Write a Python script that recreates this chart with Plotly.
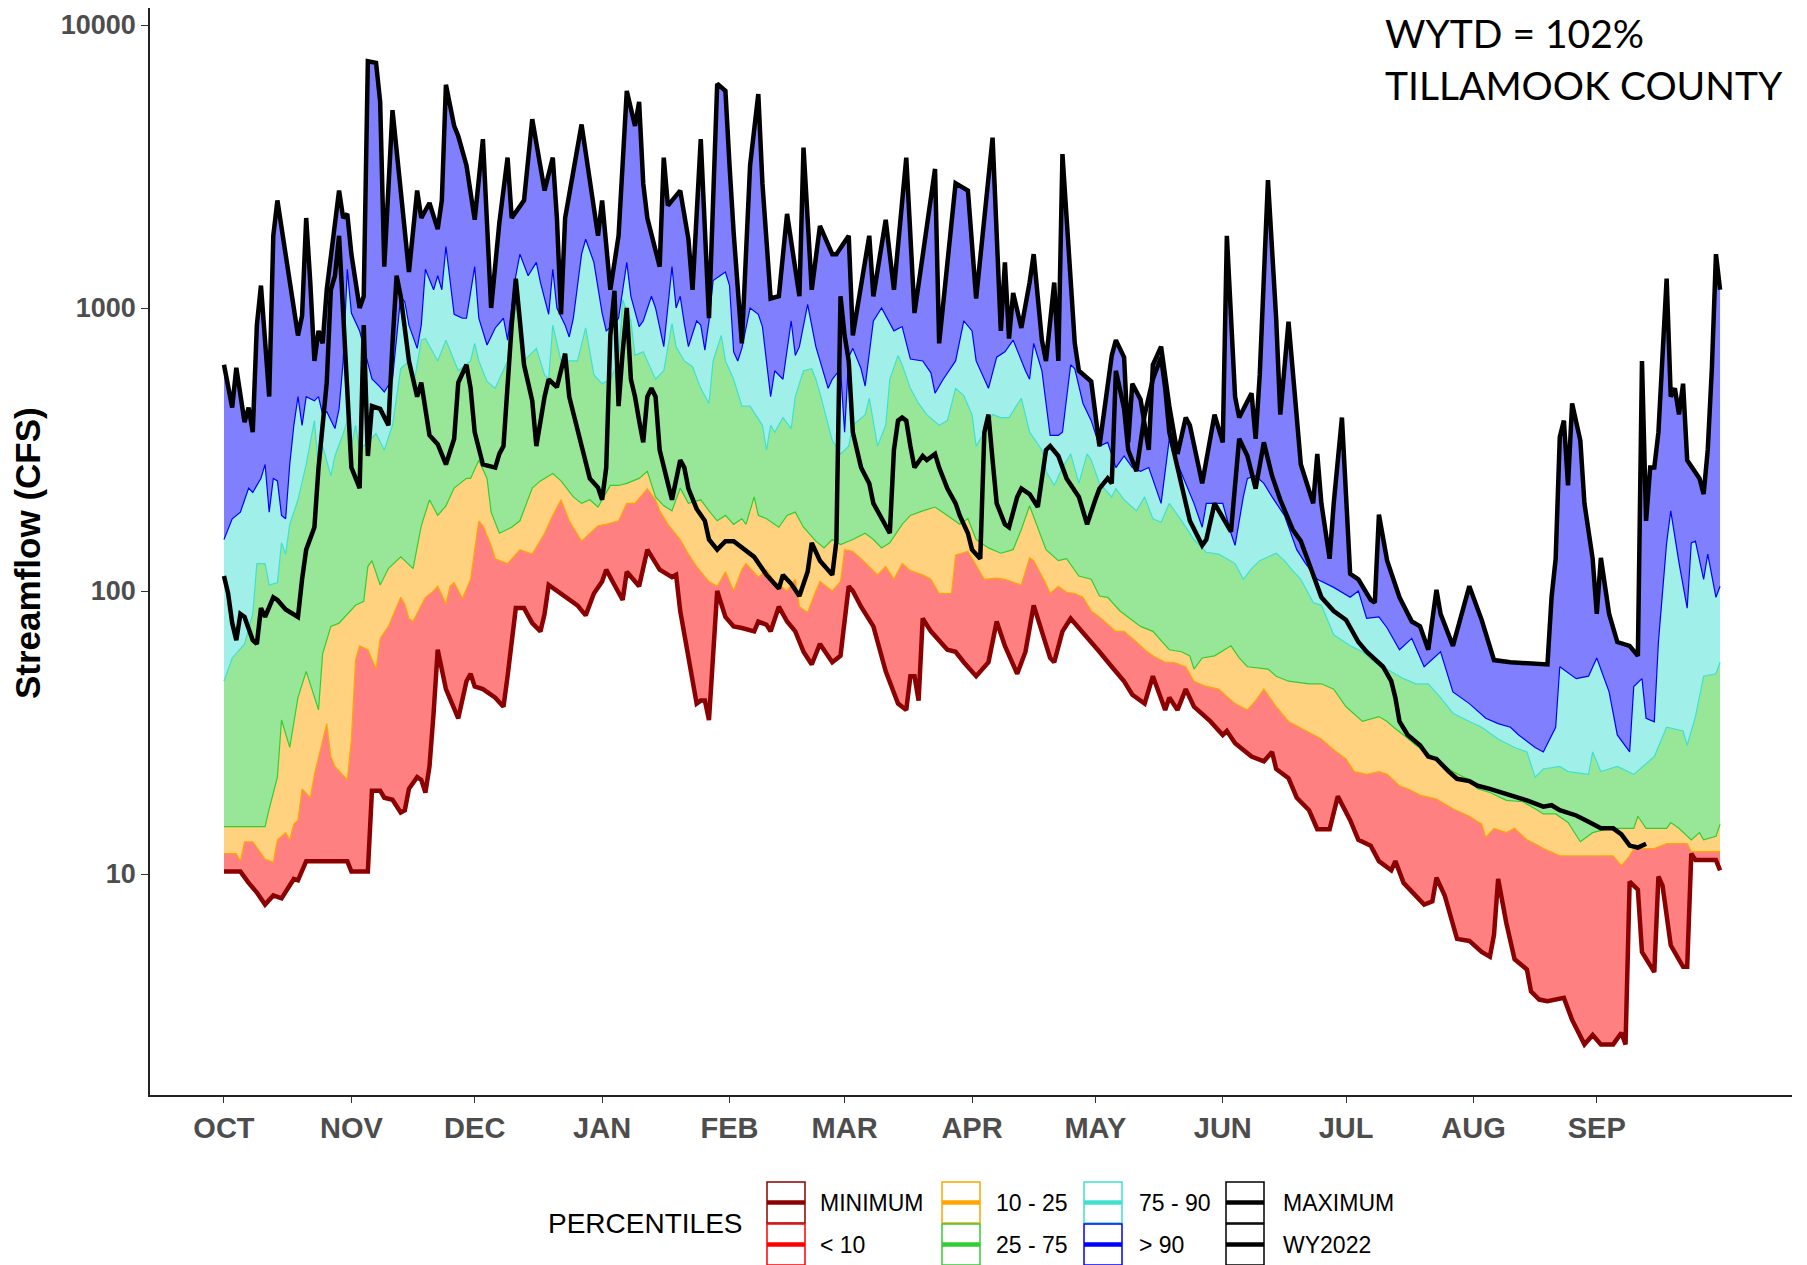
import plotly.graph_objects as go

# water-year day (0 = Oct 1) and streamflow in CFS
min_pts = [(0, 10.2), (4, 10.2), (6, 9.3), (8, 8.6), (10, 7.8), (12, 8.4), (14, 8.2), (16, 9.2), (17, 9.6), (18, 9.5),
           (20, 11.1), (30, 11.1), (31, 10.2), (35, 10.2), (36, 19.7), (38, 19.7), (39, 18.6), (41, 18.3), (43, 16.5),
           (44, 16.8), (45, 20), (47, 22), (48, 21.5), (49, 19.4), (50, 24), (51, 37), (52, 62), (54, 45), (56, 38),
           (57, 35.5), (59, 48), (60, 51), (61, 46), (63, 45), (66, 42), (68, 39), (69, 50), (70, 64), (71, 87), (73, 87),
           (75, 77), (77, 72), (78, 83), (79, 105), (81, 100), (83, 96), (86, 89), (88, 82), (90, 98), (92, 108),
           (93, 119), (95, 105), (97, 93), (98, 117), (99, 112), (101, 104), (103, 140), (105, 125), (106, 119),
           (109, 112), (110, 114), (111, 85), (113, 59), (115, 40), (116, 41), (117, 41), (118, 35), (119, 58),
           (120, 100), (122, 81), (124, 75), (126, 74), (129, 72), (130, 78), (132, 76), (133, 72), (135, 88), (137, 78),
           (139, 72), (141, 61), (143, 55), (145, 65), (148, 56), (150, 59), (151, 80), (152, 104), (153, 100), (155, 88),
           (158, 75), (161, 52), (164, 40), (166, 38), (167, 50), (168, 50), (169, 41), (170, 80), (172, 72), (174, 67),
           (176, 62), (178, 61), (180, 56), (183, 50), (186, 56), (188, 78), (190, 64), (193, 51), (195, 61), (197, 89),
           (199, 72), (201, 58), (202, 56), (204, 72), (206, 80), (210, 69), (213, 61), (216, 54), (219, 48), (221, 43),
           (224, 40), (226, 50), (228, 41), (229, 38), (230, 42), (232, 38), (234, 45), (236, 39), (240, 34.6), (243, 31),
           (244, 32), (246, 29), (250, 26), (253, 25), (255, 27), (256, 23.5), (259, 21.8), (261, 18.6), (264, 16.8),
           (266, 14.4), (269, 14.4), (271, 18.8), (274, 15.5), (276, 13.2), (279, 12.6), (281, 11.1), (284, 10.3),
           (285, 11.1), (287, 9.3), (291, 8.0), (292, 7.8), (294, 8.0), (295, 9.7), (297, 8.4), (300, 5.9), (303, 5.8),
           (306, 5.3), (308, 5.1), (309, 6.1), (310, 9.6), (312, 6.7), (314, 5.0), (317, 4.6), (318, 3.85), (320, 3.6),
           (322, 3.55), (326, 3.65), (328, 3.05), (331, 2.5), (333, 2.7), (335, 2.5), (338, 2.5), (340, 2.75), (341, 2.5),
           (342, 9.4), (344, 8.8), (345, 5.3), (348, 4.5), (349, 9.8), (350, 9.1), (352, 5.6), (355, 4.7), (356, 4.7),
           (357, 11.8), (358, 11.2), (363, 11.2), (364, 10.3)]

p10_pts = [(0, 11.8), (3, 11.8), (4, 11.1), (5, 13), (7, 13), (10, 11.3), (12, 11), (13, 13.2), (15, 14), (16, 13.2),
           (17, 15), (18, 15.5), (19, 20), (21, 18.6), (22, 22.5), (24, 29.5), (25, 34), (26, 26), (27, 24), (30, 21.5),
           (31, 30), (32, 57), (33, 64), (35, 62), (37, 53), (38, 68), (40, 75), (43, 95), (44, 90), (45, 80), (46, 78),
           (49, 95), (51, 100), (52, 104), (54, 90), (55, 104), (56, 107), (58, 94), (60, 110), (61, 140), (62, 177),
           (63, 170), (65, 145), (66, 130), (69, 125), (72, 140), (75, 135), (78, 160), (80, 185), (82, 210), (84, 177),
           (87, 150), (91, 170), (93, 172), (96, 177), (98, 204), (100, 204), (103, 230), (105, 210), (106, 192),
           (108, 172), (111, 152), (113, 135), (115, 122), (118, 108), (120, 104), (122, 117), (124, 100), (126, 119),
           (127, 125), (130, 112), (132, 119), (134, 108), (137, 100), (139, 110), (140, 88), (142, 84), (144, 100),
           (145, 108), (148, 100), (150, 108), (151, 140), (153, 138), (155, 130), (157, 122), (159, 114), (161, 122),
           (163, 110), (165, 125), (167, 118), (170, 114), (172, 110), (174, 98), (177, 98), (178, 134), (181, 138),
           (185, 110), (188, 111), (190, 110), (194, 105), (196, 131), (197, 128), (200, 106), (201, 98), (203, 104),
           (205, 99), (207, 98), (209, 95), (211, 85), (213, 81), (217, 72), (219, 72), (222, 66), (224, 62), (226, 59),
           (229, 56), (231, 56), (234, 54), (236, 48), (239, 46), (242, 45), (246, 40), (249, 38), (251, 41), (253, 45),
           (256, 39), (259, 34.6), (262, 32.8), (265, 31), (267, 30), (270, 27.5), (273, 25.5), (275, 23), (278, 22.5),
           (281, 23), (283, 22.5), (286, 20.5), (288, 20), (291, 19), (295, 18.4), (299, 17), (303, 16), (306, 15),
           (307, 13.5), (309, 14.5), (312, 14), (314, 14.5), (317, 13.2), (319, 12.8), (321, 12.3), (325, 11.6),
           (338, 11.6), (340, 10.7), (342, 11.6), (343, 12.3), (348, 12.3), (351, 12.8), (356, 12.8), (357, 12),
           (364, 12)]

p25_pts = [(0, 14.7), (10, 14.7), (11, 17), (13, 22), (14, 35), (16, 28), (18, 42), (20, 52), (23, 38), (24, 60),
           (26, 75), (28, 77), (32, 89), (34, 92), (35, 122), (36, 128), (38, 105), (40, 120), (43, 132), (46, 120),
           (48, 170), (50, 210), (52, 185), (54, 200), (56, 231), (59, 250), (60, 250), (62, 290), (64, 250), (65, 190),
           (67, 160), (70, 168), (72, 177), (75, 231), (77, 245), (80, 260), (82, 245), (85, 215), (87, 204), (89, 210),
           (91, 198), (94, 236), (96, 236), (98, 240), (101, 250), (103, 265), (105, 215), (107, 200), (109, 192),
           (111, 231), (113, 204), (116, 210), (118, 192), (120, 177), (122, 185), (124, 172), (126, 180), (127, 172),
           (129, 215), (130, 185), (132, 180), (135, 168), (137, 185), (139, 190), (141, 168), (144, 150), (146, 142),
           (148, 152), (150, 146), (153, 152), (156, 160), (158, 152), (160, 142), (162, 148), (165, 172), (167, 185),
           (170, 192), (173, 198), (176, 185), (179, 172), (181, 180), (183, 152), (186, 142), (189, 136), (192, 140),
           (194, 165), (196, 200), (198, 168), (200, 140), (203, 128), (205, 130), (208, 113), (211, 110), (213, 96),
           (215, 95), (218, 85), (223, 75), (226, 72), (230, 62), (233, 61), (235, 59), (236, 53), (238, 58), (241, 59),
           (245, 64), (247, 58), (249, 54), (254, 53), (256, 50), (259, 48), (264, 47), (267, 47), (270, 45), (273, 39),
           (277, 34.6), (281, 36), (283, 34.6), (285, 32.6), (287, 31), (290, 28.5), (294, 26), (299, 23), (303, 21.5),
           (305, 20), (308, 19.4), (312, 18.2), (316, 18), (319, 17), (321, 16.3), (324, 16.3), (327, 15.2), (330, 13),
           (333, 14), (337, 14.5), (343, 14.5), (344, 16), (346, 14.5), (351, 14.5), (352, 15.2), (354, 14.5),
           (357, 13.2), (359, 14), (360, 13.2), (363, 13.6), (364, 15)]

p75_pts = [(0, 48), (2, 58), (5, 65), (7, 83), (8, 125), (10, 125), (11, 105), (13, 107), (14, 148), (15, 135),
           (16, 172), (18, 210), (20, 280), (22, 400), (23, 270), (24, 325), (26, 255), (27, 300), (29, 360), (30, 400),
           (31, 325), (32, 385), (33, 315), (37, 360), (39, 315), (41, 385), (43, 610), (45, 650), (46, 520), (48, 770),
           (49, 780), (52, 650), (54, 770), (56, 650), (57, 600), (60, 650), (61, 750), (62, 650), (64, 550), (66, 520),
           (69, 650), (71, 1020), (72, 870), (73, 650), (76, 720), (78, 580), (79, 560), (80, 870), (82, 650), (86, 650),
           (88, 850), (90, 580), (92, 540), (94, 560), (96, 650), (97, 1070), (99, 900), (100, 680), (102, 700),
           (105, 560), (107, 600), (109, 880), (110, 730), (112, 650), (114, 620), (116, 520), (118, 460), (119, 650),
           (121, 800), (122, 650), (124, 560), (126, 450), (128, 450), (131, 385), (132, 315), (133, 385), (134, 364),
           (136, 410), (138, 375), (139, 486), (141, 600), (143, 610), (144, 560), (145, 500), (147, 385), (148, 340),
           (150, 305), (152, 325), (153, 385), (156, 420), (157, 480), (159, 325), (161, 385), (162, 560), (164, 680),
           (165, 630), (167, 520), (169, 460), (171, 420), (174, 385), (176, 400), (178, 520), (180, 490), (182, 420),
           (183, 325), (185, 364), (187, 420), (189, 410), (191, 410), (194, 480), (196, 364), (199, 315), (200, 265),
           (202, 236), (204, 273), (206, 305), (208, 240), (210, 305), (211, 290), (213, 240), (216, 215), (217, 230),
           (219, 210), (222, 192), (224, 215), (226, 180), (228, 175), (230, 204), (233, 177), (236, 152), (239, 137),
           (242, 135), (244, 130), (246, 125), (248, 110), (250, 120), (252, 128), (256, 136), (258, 128), (260, 118),
           (262, 110), (265, 91), (267, 89), (270, 70), (274, 64), (277, 61), (280, 56), (283, 53), (287, 49), (290, 47),
           (293, 47), (296, 42), (299, 37), (303, 34.6), (306, 33), (310, 30), (314, 28), (317, 27), (319, 22),
           (321, 23.5), (325, 24), (327, 23), (332, 22.5), (333, 27), (335, 23), (339, 24), (343, 22.5), (348, 26),
           (351, 33), (355, 32), (356, 28.5), (358, 36), (360, 50), (363, 51), (364, 56)]

p90_pts = [(0, 152), (2, 180), (4, 190), (6, 231), (7, 223), (9, 250), (10, 280), (11, 190), (12, 250), (13, 245),
           (14, 185), (15, 180), (16, 280), (17, 385), (18, 486), (19, 385), (20, 486), (22, 470), (23, 486), (24, 420),
           (25, 430), (27, 375), (28, 440), (29, 650), (30, 1370), (31, 960), (33, 830), (35, 635), (36, 562), (38, 525),
           (39, 505), (41, 562), (43, 1100), (44, 1050), (45, 870), (47, 720), (48, 870), (49, 1370), (51, 1160),
           (52, 1300), (53, 1160), (54, 1650), (56, 950), (58, 920), (59, 920), (61, 1400), (62, 920), (64, 740),
           (66, 850), (68, 920), (69, 770), (71, 1300), (72, 1550), (74, 1300), (76, 1450), (77, 1230), (79, 950),
           (80, 1370), (81, 1000), (83, 870), (84, 790), (85, 920), (87, 1550), (88, 1750), (90, 1450), (92, 960),
           (93, 830), (95, 880), (96, 920), (98, 1450), (99, 1100), (101, 860), (102, 900), (104, 1100), (105, 1000),
           (107, 730), (108, 1000), (109, 1400), (110, 1000), (111, 1100), (112, 880), (113, 730), (115, 900),
           (116, 870), (117, 710), (118, 900), (119, 1250), (122, 1340), (123, 1200), (124, 700), (125, 650), (126, 720),
           (128, 1000), (130, 950), (131, 860), (133, 486), (134, 600), (136, 560), (138, 900), (139, 680), (140, 730),
           (142, 1030), (144, 730), (145, 650), (147, 520), (148, 560), (150, 610), (151, 364), (152, 670), (153, 720),
           (155, 610), (156, 530), (158, 900), (160, 1000), (163, 830), (165, 860), (167, 660), (170, 650), (172, 590),
           (173, 500), (175, 560), (178, 650), (180, 900), (182, 830), (183, 650), (186, 520), (188, 670), (190, 700),
           (192, 770), (195, 600), (196, 560), (197, 750), (199, 600), (201, 355), (203, 355), (204, 364), (206, 630),
           (207, 610), (209, 460), (211, 400), (213, 325), (215, 335), (217, 273), (219, 300), (221, 273), (223, 265),
           (225, 273), (227, 225), (228, 204), (230, 345), (231, 305), (234, 240), (236, 204), (238, 168), (239, 204),
           (243, 204), (245, 160), (246, 145), (248, 215), (249, 250), (251, 255), (253, 240), (255, 215), (258, 185),
           (261, 140), (263, 126), (266, 110), (270, 103), (274, 95), (276, 100), (278, 80), (281, 81), (283, 74),
           (286, 62), (289, 68), (292, 54), (296, 61), (299, 44), (303, 40), (307, 35.5), (310, 34), (313, 33),
           (315, 31), (319, 28), (321, 27), (324, 33), (325, 54), (329, 49), (332, 50), (334, 58), (337, 44), (339, 31),
           (342, 27), (343, 46), (345, 49), (346, 35.5), (348, 34.5), (349, 66), (351, 148), (352, 192), (354, 126),
           (356, 87), (357, 148), (358, 150), (360, 110), (361, 135), (363, 95), (364, 104)]

max_pts = [(0, 630), (2, 445), (3, 615), (5, 395), (6, 445), (7, 364), (8, 870), (9, 1200), (11, 486), (12, 1800),
           (13, 2400), (15, 1550), (17, 1000), (18, 800), (19, 940), (20, 2080), (21, 1230), (22, 650), (23, 830),
           (24, 750), (25, 1160), (28, 2600), (29, 2080), (30, 2150), (31, 1550), (33, 1000), (34, 1100), (35, 7450),
           (37, 7350), (38, 5350), (39, 1400), (41, 5000), (43, 2600), (45, 1340), (47, 2600), (48, 2080), (50, 2350),
           (52, 1900), (53, 2400), (54, 6150), (56, 4400), (57, 4050), (59, 3190), (61, 2050), (63, 3950), (65, 1000),
           (67, 2000), (69, 3400), (70, 2080), (73, 2400), (75, 4650), (78, 2600), (80, 3400), (81, 2080), (82, 950),
           (83, 2080), (87, 4450), (89, 2760), (91, 1800), (92, 2400), (94, 1160), (96, 1800), (98, 5850), (100, 4400),
           (101, 5350), (102, 2760), (103, 2080), (106, 1400), (107, 3400), (108, 2300), (110, 2500), (111, 2600),
           (113, 1750), (114, 1160), (116, 3950), (118, 920), (120, 6200), (122, 5850), (123, 3190), (124, 1850),
           (126, 750), (128, 3190), (130, 5700), (131, 2760), (133, 1080), (135, 1100), (137, 2150), (140, 1100),
           (141, 3690), (143, 1160), (145, 1950), (148, 1550), (149, 1550), (152, 1800), (153, 800), (157, 1800),
           (158, 1100), (161, 2050), (163, 1160), (166, 3400), (168, 960), (173, 3100), (174, 750), (178, 2760),
           (181, 2600), (183, 1080), (187, 4000), (189, 830), (190, 1450), (191, 780), (192, 1130), (194, 850),
           (196, 1230), (197, 1550), (199, 770), (200, 650), (202, 1230), (203, 650), (204, 3500), (206, 1300),
           (207, 750), (208, 600), (211, 550), (213, 325), (216, 680), (217, 770), (219, 670), (220, 335), (221, 540),
           (223, 475), (225, 315), (226, 630), (228, 730), (230, 450), (232, 305), (234, 410), (235, 385), (238, 240),
           (241, 420), (243, 335), (244, 1800), (246, 486), (247, 410), (250, 500), (251, 345), (252, 580), (254, 2830),
           (256, 915), (257, 420), (259, 895), (260, 610), (262, 280), (265, 204), (266, 305), (267, 204), (269, 130),
           (270, 204), (272, 410), (274, 115), (276, 110), (279, 93), (280, 91), (281, 186), (283, 128), (286, 95),
           (289, 78), (291, 75), (293, 62), (295, 101), (296, 83), (299, 64), (303, 104), (306, 79), (309, 57), (313, 56),
           (322, 55), (323, 95), (324, 130), (325, 350), (326, 400), (327, 236), (328, 460), (330, 340), (331, 204),
           (333, 130), (334, 83), (335, 131), (337, 83), (339, 66), (342, 64), (344, 59), (345, 650), (346, 177),
           (347, 273), (348, 273), (349, 364), (351, 1270), (352, 486), (353, 520), (354, 421), (355, 540), (356, 290),
           (359, 250), (360, 220), (361, 315), (362, 610), (363, 1550), (364, 1160)]

wy2022_pts = [(0, 113), (1, 98), (2, 77), (3, 67), (4, 83), (5, 81), (7, 67), (8, 65), (9, 87), (10, 81), (12, 95),
              (13, 93), (15, 86), (18, 81), (19, 110), (20, 140), (22, 168), (23, 273), (24, 385), (25, 545), (26, 1160),
              (27, 1300), (28, 1800), (29, 1000), (30, 486), (31, 273), (33, 231), (34, 870), (35, 300), (36, 450),
              (38, 440), (40, 385), (41, 750), (42, 1300), (43, 1100), (45, 650), (47, 486), (48, 545), (50, 355),
              (52, 330), (54, 280), (56, 345), (57, 545), (59, 630), (60, 520), (61, 364), (63, 280), (66, 273),
              (67, 305), (68, 325), (70, 870), (71, 1270), (72, 900), (73, 630), (75, 470), (76, 325), (78, 486),
              (79, 560), (81, 525), (83, 690), (84, 486), (87, 325), (89, 250), (91, 232), (92, 210), (93, 273),
              (94, 800), (95, 1150), (96, 450), (97, 700), (98, 1000), (99, 560), (100, 486), (101, 400), (102, 335),
              (103, 486), (104, 520), (105, 486), (106, 315), (108, 240), (109, 210), (111, 290), (112, 273), (113, 230),
              (115, 195), (117, 177), (118, 152), (120, 140), (122, 150), (124, 150), (126, 142), (129, 132), (132, 114),
              (135, 102), (136, 114), (138, 106), (140, 96), (142, 117), (143, 148), (145, 128), (148, 114), (149, 150),
              (150, 1100), (151, 800), (152, 650), (153, 364), (155, 273), (157, 240), (158, 204), (161, 172),
              (162, 160), (163, 315), (164, 400), (165, 410), (166, 400), (167, 325), (168, 273), (170, 300), (171, 290),
              (173, 305), (174, 273), (176, 230), (178, 204), (179, 185), (181, 160), (182, 140), (184, 130), (185, 364),
              (186, 420), (187, 290), (188, 204), (190, 172), (191, 168), (193, 215), (194, 230), (196, 220), (198, 198),
              (200, 315), (201, 325), (203, 300), (205, 250), (208, 215), (210, 172), (212, 210), (213, 230), (215, 250),
              (216, 240), (217, 600), (219, 440), (220, 315), (222, 265), (224, 420), (226, 560), (228, 670), (229, 520),
              (230, 364), (233, 236), (235, 177), (238, 145), (239, 152), (241, 204), (243, 182), (245, 162), (247, 345),
              (249, 300), (251, 230), (253, 335), (255, 255), (257, 210), (260, 165), (262, 150), (264, 125), (267, 95),
              (270, 85), (273, 79), (276, 66), (278, 61), (282, 54), (284, 48), (285, 42), (286, 34.6), (288, 31),
              (291, 28.5), (293, 26), (295, 25.5), (298, 23), (300, 21.7), (303, 21.3), (305, 20.5), (308, 20),
              (311, 19.4), (314, 18.9), (317, 18.2), (321, 17.3), (323, 17.5), (325, 16.8), (329, 16.1), (332, 15.3),
              (335, 14.5), (338, 14.5), (340, 13.8), (342, 12.6), (344, 12.4), (346, 12.8)]

month_start = [0, 31, 61, 92, 123, 151, 182, 212, 243, 273, 304, 334]
month_labels = ["OCT", "NOV", "DEC", "JAN", "FEB", "MAR", "APR", "MAY", "JUN", "JUL", "AUG", "SEP"]
y_ticks = [10, 100, 1000, 10000]

FONT = "Liberation Sans, Arial, sans-serif"
# the page body adds an 8 px offset, so the figure is 8 px smaller and positions below are page pixels
OFF = 8
W, H = 1807 - OFF, 1265 - OFF
PLOT_L, PLOT_R, PLOT_T, PLOT_B = 150, 1792, 8, 1095   # page pixels of the plot area
ML, MT = PLOT_L - OFF, PLOT_T - OFF
MR, MB = W - (PLOT_R - OFF), H - (PLOT_B - OFF)
PW, PH = PLOT_R - PLOT_L, PLOT_B - PLOT_T

# log range: 10 sits at page y 874, 10000 at page y 25
Y10, Y10K = 874, 25
DEC = (Y10 - Y10K) / 3
Y_RANGE = [1 - (PLOT_B - Y10) / DEC, 1 + (Y10 - PLOT_T) / DEC]


def fx(px):
    return (px - PLOT_L) / PW


def fy(py):
    return (PLOT_B - py) / PH


def xy(pts):
    return [p[0] for p in pts], [p[1] for p in pts]


fig = go.Figure()

# base for the red ribbon
x, y = xy(min_pts)
fig.add_trace(go.Scatter(x=x, y=y, mode="lines", line=dict(width=0, color="#8B0000"),
                         showlegend=False, hoverinfo="skip"))

bands = [
    (p10_pts, "< 10", "#FF8080", "#FFA500"),
    (p25_pts, "10 - 25", "#FFD280", "#32CD32"),
    (p75_pts, "25 - 75", "#98E698", "#40E0D0"),
    (p90_pts, "75 - 90", "#A0EFE8", "#0000FF"),
]
for pts, name, fillc, edge in bands:
    x, y = xy(pts)
    fig.add_trace(go.Scatter(x=x, y=y, mode="lines", name=name, fill="tonexty", fillcolor=fillc,
                             line=dict(color=edge, width=1.2), showlegend=False))

x, y = xy(max_pts)
fig.add_trace(go.Scatter(x=x, y=y, mode="lines", name="MAXIMUM", fill="tonexty", fillcolor="#8080FF",
                         line=dict(color="black", width=4.5), showlegend=False))

x, y = xy(min_pts)
fig.add_trace(go.Scatter(x=x, y=y, mode="lines", name="MINIMUM",
                         line=dict(color="#8B0000", width=4.5), showlegend=False))

x, y = xy(wy2022_pts)
fig.add_trace(go.Scatter(x=x, y=y, mode="lines", name="WY2022",
                         line=dict(color="black", width=4.5), showlegend=False))

# legend drawn like the ggplot key boxes
legend_items = [
    ("MINIMUM", "#8B0000"), ("&lt; 10", "#FF0000"),
    ("10 - 25", "#FFA500"), ("25 - 75", "#32CD32"),
    ("75 - 90", "#40E0D0"), ("&gt; 90", "#0000FF"),
    ("MAXIMUM", "#000000"), ("WY2022", "#000000"),
]
box_left = [767, 942, 1084, 1226]
label_left = [818, 994, 1137, 1281]
row_top = [1182, 1224]
box_w, box_h = 38, 41

shapes = []
annotations = []
for i, (label, col) in enumerate(legend_items):
    c, r = i // 2, i % 2
    x0, x1 = box_left[c], box_left[c] + box_w
    y0, y1 = row_top[r], row_top[r] + box_h
    ym = (y0 + y1) / 2
    shapes.append(dict(type="rect", xref="paper", yref="paper", x0=fx(x0), x1=fx(x1), y0=fy(y0), y1=fy(y1),
                       line=dict(color=col, width=1.5), fillcolor="white", layer="above"))
    shapes.append(dict(type="line", xref="paper", yref="paper", x0=fx(x0), x1=fx(x1), y0=fy(ym), y1=fy(ym),
                       line=dict(color=col, width=4.5), layer="above"))
    annotations.append(dict(text=label, xref="paper", yref="paper", x=fx(label_left[c]), y=fy(ym),
                            xanchor="left", yanchor="middle", showarrow=False,
                            font=dict(family=FONT, size=23, color="black")))

annotations.append(dict(text="PERCENTILES", xref="paper", yref="paper", x=fx(546), y=fy(1223),
                        xanchor="left", yanchor="middle", showarrow=False,
                        font=dict(family=FONT, size=28, color="black")))

annotations.append(dict(text="Streamflow (CFS)", xref="paper", yref="paper", x=fx(27), y=fy(553),
                        xanchor="center", yanchor="middle", textangle=-90, showarrow=False,
                        font=dict(family=FONT, size=35, color="black", weight="bold")))

annotations.append(dict(text="WYTD = 102%", xref="paper", yref="paper", x=fx(1383), y=fy(PLOT_T),
                        xanchor="left", yanchor="top", showarrow=False,
                        font=dict(family="Lato, Open Sans, sans-serif", size=39, color="black")))
annotations.append(dict(text="TILLAMOOK COUNTY", xref="paper", yref="paper", x=fx(1383), y=fy(60),
                        xanchor="left", yanchor="top", showarrow=False,
                        font=dict(family="Lato, Open Sans, sans-serif", size=39, color="black")))

fig.update_layout(
    width=W, height=H,
    margin=dict(l=ML, r=MR, t=MT, b=MB, autoexpand=False),
    paper_bgcolor="white", plot_bgcolor="white",
    showlegend=False,
    shapes=shapes,
    annotations=annotations,
    xaxis=dict(range=[-18.0, 381.5], tickmode="array", tickvals=month_start, ticktext=month_labels,
               showline=True, linecolor="#222222", linewidth=1.5, ticks="outside", ticklen=6,
               tickcolor="#333333", tickwidth=1, showgrid=False, zeroline=False, automargin=False,
               ticklabeloverflow="allow",
               tickfont=dict(family=FONT, size=29, color="#4D4D4D", weight="bold")),
    yaxis=dict(type="log", range=Y_RANGE, tickmode="array", tickvals=y_ticks,
               ticktext=[str(v) for v in y_ticks],
               showline=True, linecolor="#222222", linewidth=1.5, ticks="outside", ticklen=7,
               tickcolor="#333333", tickwidth=1, showgrid=False, zeroline=False, automargin=False,
               ticklabeloverflow="allow",
               tickfont=dict(family=FONT, size=27, color="#4D4D4D", weight="bold")),
)

fig.write_html("out.html")
